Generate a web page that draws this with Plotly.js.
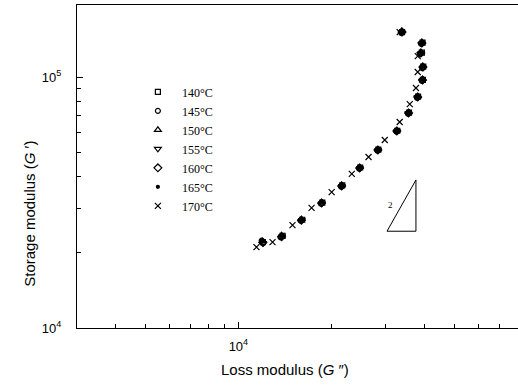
<!DOCTYPE html>
<html>
<head>
<meta charset="utf-8">
<script src="https://cdn.plot.ly/plotly-3.0.1.min.js"></script>
<style>html,body{margin:0;padding:0;background:#fff;}#chart{width:518px;height:386px;}</style>
</head>
<body>
<div id="chart"></div>
<script>
// Temperatures (legend labels)
const seriesNames = ["140\u00b0C", "145\u00b0C", "150\u00b0C", "155\u00b0C", "160\u00b0C", "165\u00b0C", "170\u00b0C"];

// Loss modulus G'' (x) and storage modulus G' (y) for each temperature
const lossG_140 = [12000, 13900, 16100, 18700, 21700, 24800, 28400, 32700, 35700, 38200, 39600, 39700, 39300, 39500, 33900];
const storG_140 = [22000, 23300, 27000, 31600, 37000, 43600, 51400, 61100, 72100, 83500, 97500, 110000, 125000, 137000, 151000];

const lossG_145 = [11900, 13700, 15900, 18500, 21500, 24600, 28200, 32500, 35400, 37900, 39300, 39400, 38800, 39100, 33700];
const storG_145 = [22300, 23000, 26800, 31300, 36600, 43200, 50900, 60600, 71500, 82700, 96500, 108500, 123500, 135500, 150000];

const lossG_150 = [11950, 13800, 16000, 18600, 21600, 24700, 28300, 32600, 35600, 38100, 39500, 39500, 39000, 39300, 33800];
const storG_150 = [22200, 23400, 27100, 31700, 37100, 43700, 51500, 61200, 72300, 83800, 98000, 110500, 125500, 137500, 152500];

const lossG_155 = [12050, 13850, 16050, 18650, 21650, 24750, 28350, 32650, 35500, 38000, 39400, 39600, 38900, 39200, 33800];
const storG_155 = [21800, 23200, 26900, 31400, 36800, 43400, 51200, 60900, 71800, 83200, 96800, 109000, 124000, 136000, 150500];

const lossG_160 = [12000, 13800, 16000, 18600, 21600, 24700, 28300, 32600, 35600, 38100, 39500, 39600, 39000, 39300, 33900];
const storG_160 = [21900, 23100, 26900, 31500, 36800, 43400, 51200, 60900, 71900, 83200, 97300, 109600, 124700, 136500, 151000];

const lossG_165 = [12000, 13850, 16050, 18650, 21650, 24750, 28350, 32650, 35650, 38150, 39550, 39550, 39050, 39350, 33850];
const storG_165 = [22100, 23300, 27000, 31600, 36900, 43500, 51300, 61000, 72000, 83400, 97400, 109800, 124800, 136700, 151200];

const lossG_170 = [11440, 12900, 14970, 17260, 20050, 23300, 26400, 29800, 33300, 35900, 37600, 38100, 38100, 33300];
const storG_170 = [21000, 22000, 25700, 30100, 34800, 41100, 48000, 56100, 66200, 78000, 90400, 104700, 121200, 151000];

// Slope-2 guide triangle (G'', G')
const triLoss = [30300, 37600, 37600, 30300];
const triStor = [24300, 24300, 38900, 24300];

// Axis tick values
const xMajor = [10000];
const xMajorText = ["10<sup>4</sup>"];
const xMinor = [4000, 5000, 6000, 7000, 8000, 9000, 20000, 30000, 40000, 50000, 60000, 70000];
const yMajor = [10000, 100000];
const yMajorText = ["10<sup>4</sup>", "10<sup>5</sup>"];
const yMinor = [20000, 30000, 40000, 50000, 60000, 70000, 80000, 90000];

const xs = [lossG_140, lossG_145, lossG_150, lossG_155, lossG_160, lossG_165, lossG_170];
const ys = [storG_140, storG_145, storG_150, storG_155, storG_160, storG_165, storG_170];
const symbols = ["square-open", "circle-open", "triangle-up-open", "triangle-down-open", "diamond-open", "circle", "x-thin-open"];
const sizes = [5, 5, 6, 6, 6, 3, 6];

const traces = xs.map((x, i) => ({
  x: x, y: ys[i], type: "scatter", mode: "markers", name: seriesNames[i],
  marker: {symbol: symbols[i], size: sizes[i], color: "#000", line: {color: "#000", width: 1.2}}
}));
traces.push({
  x: triLoss, y: triStor, type: "scatter", mode: "lines", showlegend: false,
  line: {color: "#000", width: 1}, hoverinfo: "skip"
});

const layout = {
  width: 518, height: 386,
  margin: {l: 77, r: 0, t: 5, b: 58},
  paper_bgcolor: "#fff", plot_bgcolor: "#fff",
  font: {family: "Liberation Sans, Arial, sans-serif", color: "#000", size: 13},
  showlegend: true,
  legend: {x: 0.129, y: 0.776, xanchor: "left", yanchor: "top", bgcolor: "rgba(0,0,0,0)",
           font: {family: "Liberation Serif, Times New Roman, serif", size: 12, color: "#000"},
           itemwidth: 38},
  xaxis: {
    type: "log", range: [Math.log10(3000), Math.log10(80500)],
    showline: true, linecolor: "#000", linewidth: 1.2, mirror: true,
    showgrid: false, zeroline: false,
    tickmode: "array", tickvals: xMajor, ticktext: xMajorText,
    ticks: "inside", ticklen: 6, tickcolor: "#000", ticklabelstandoff: 6,
    minor: {tickmode: "array", tickvals: xMinor, ticks: "inside", ticklen: 4, tickcolor: "#000", showgrid: false}
  },
  yaxis: {
    type: "log", range: [4, 5.287],
    showline: true, linecolor: "#000", linewidth: 1.2, mirror: false,
    showgrid: false, zeroline: false,
    tickmode: "array", tickvals: yMajor, ticktext: yMajorText,
    ticks: "inside", ticklen: 6, tickcolor: "#000", ticklabelstandoff: 12,
    minor: {tickmode: "array", tickvals: yMinor, ticks: "inside", ticklen: 4, tickcolor: "#000", showgrid: false}
  },
  annotations: [
    {text: "Loss modulus (<i>G</i> \u2033)", xref: "paper", yref: "paper", x: 0.472, y: -0.13,
     xanchor: "center", yanchor: "middle", showarrow: false, font: {size: 15}},
    {text: "Storage modulus (<i>G</i> \u2032)", xref: "paper", yref: "paper", x: -0.107, y: 0.353,
     xanchor: "center", yanchor: "middle", showarrow: false, textangle: -90, font: {size: 15}},
    {text: "2", x: Math.log10(31200), y: Math.log10(31000), xref: "x", yref: "y",
     showarrow: false, font: {family: "Liberation Serif, serif", size: 9}}
  ]
};

Plotly.newPlot("chart", traces, layout, {displayModeBar: false, staticPlot: true});
</script>
</body>
</html>
